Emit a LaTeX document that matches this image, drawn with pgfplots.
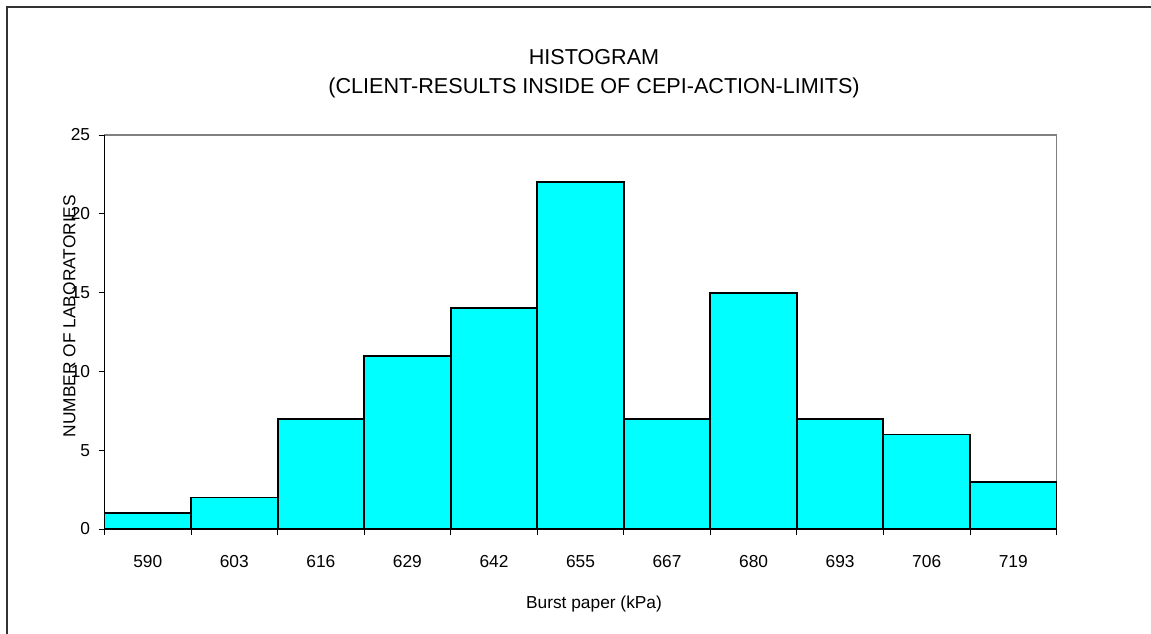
\documentclass[border=0pt]{standalone}
\usepackage{pgfplots}
\pgfplotsset{compat=1.18}
\usepackage{fontspec}
\setmainfont{Liberation Sans}
\definecolor{barcyan}{HTML}{00FFFF}
\definecolor{framegray}{HTML}{808080}
\begin{document}
\begin{tikzpicture}[x=0.75pt,y=0.75pt]
\useasboundingbox (0,0) rectangle (1151,-634);
\draw[line width=1.5pt,color=black!80] (7,-640) -- (7,-7) -- (1160,-7);
\begin{axis}[
  at={(78.375pt,-396.75pt)}, anchor=south west,
  scale only axis, width=714pt, height=295.5pt,
  xmin=0, xmax=11, ymin=0, ymax=25,
  xtick={0,...,11},
  xticklabels={590,603,616,629,642,655,667,680,693,706,719,{}},
  x tick label as interval,
  ytick={0,5,...,25},
  tick align=outside, tick pos=left,
  major tick length=4.5pt,
  tick style={black, line width=0.6pt},
  axis line style={draw=framegray, line width=1.2pt},
  /pgf/number format/assume math mode=true,
  ticklabel style={font=\fontsize{13}{15}\selectfont},
  xticklabel style={yshift=-11.5pt},
  yticklabel style={xshift=-2.8pt},
  clip=false,
]
\addplot[ybar interval, fill=barcyan, draw=black, line width=1.4pt]
  coordinates {(0,1) (1,2) (2,7) (3,11) (4,14) (5,22) (6,7) (7,15) (8,7) (9,6) (10,3) (11,3)};
\draw[black, line width=1.2pt] (axis cs:0,25) -- (axis cs:0,0) -- (axis cs:11,0);
\end{axis}
\node[font=\fontsize{16.2}{18}\selectfont] at (594,-57) {HISTOGRAM};
\node[font=\fontsize{16.2}{18}\selectfont] at (594,-88) {(CLIENT-RESULTS INSIDE OF CEPI-ACTION-LIMITS)};
\node[font=\fontsize{13}{15}\selectfont] at (594,-604) {Burst paper (kPa)};
\node[font=\fontsize{13}{15}\selectfont, rotate=90] at (69.5,-316) {NUMBER OF LABORATORIES};
\end{tikzpicture}
\end{document}
